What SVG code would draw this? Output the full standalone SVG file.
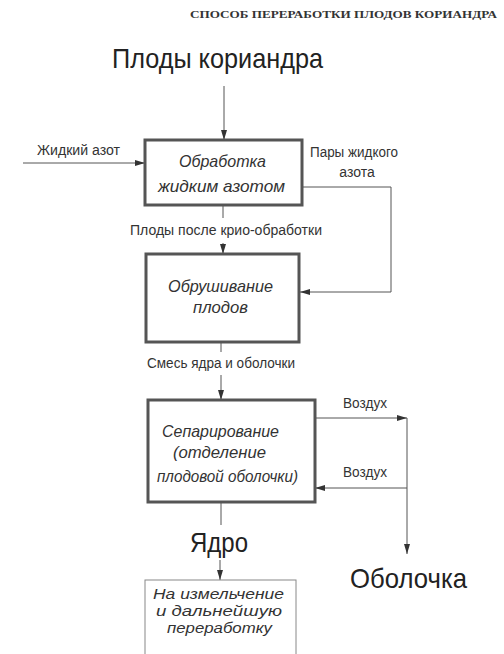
<svg xmlns="http://www.w3.org/2000/svg" width="504" height="654" viewBox="0 0 504 654">
<defs>
<style>
.t{font-family:"Liberation Sans","Noto Sans",sans-serif;fill:#333;}
.i{font-style:italic;}
.big{font-size:28px;fill:#222;}
.lbl{font-size:14px;}
.box{font-size:17px;}
.sm{font-size:15.5px;}
.thick{fill:#fff;stroke:#555;stroke-width:3;}
.thin{fill:#fff;stroke:#888;stroke-width:1;}
.ln{fill:none;stroke:#555;stroke-width:1;}
</style>
<marker id="ah" viewBox="0 0 10 6" refX="10" refY="3" markerWidth="10" markerHeight="6" markerUnits="userSpaceOnUse" orient="auto">
<path d="M0,0 L10,3 L0,6 z" fill="#333"/>
</marker>
</defs>
<rect width="504" height="654" fill="#fff"/>
<text x="190" y="18" font-family="Liberation Serif,serif" font-weight="bold" font-size="11" fill="#333" textLength="307" lengthAdjust="spacingAndGlyphs">СПОСОБ ПЕРЕРАБОТКИ ПЛОДОВ КОРИАНДРА</text>

<g id="connectors">
<path class="ln" d="M224,86 V140" marker-end="url(#ah)"/>
<path class="ln" d="M23,163 H145" marker-end="url(#ah)"/>
<path class="ln" d="M302,187 H391 V292 H300" marker-end="url(#ah)"/>
<path class="ln" d="M223,205 V218"/>
<path class="ln" d="M223,243 V254" marker-end="url(#ah)"/>
<path class="ln" d="M221,342 V352"/>
<path class="ln" d="M221,375 V400" marker-end="url(#ah)"/>
<path class="ln" d="M315,418 H407" marker-end="url(#ah)"/>
<path class="ln" d="M407,418 V554" marker-end="url(#ah)"/>
<path class="ln" d="M407,488 H315" marker-end="url(#ah)"/>
<path class="ln" d="M221,502 V525"/>
<path class="ln" d="M220,560 V580" marker-end="url(#ah)"/>
</g>

<g id="n-plody">
<text class="t big" x="112" y="68" textLength="211" lengthAdjust="spacingAndGlyphs">Плоды кориандра</text>
</g>
<g id="n-azot">
<text class="t lbl" x="37" y="155" textLength="83" lengthAdjust="spacingAndGlyphs">Жидкий азот</text>
</g>
<g id="n-pary">
<text class="t lbl" x="310" y="157" textLength="88" lengthAdjust="spacingAndGlyphs">Пары жидкого</text>
<text class="t lbl" x="357" y="177" text-anchor="middle">азота</text>
</g>
<g id="n-obrabotka">
<rect class="thick" x="145" y="140" width="157" height="65"/>
<text class="t i box" x="179" y="167" textLength="87" lengthAdjust="spacingAndGlyphs">Обработка</text>
<text class="t i box" x="158" y="192" textLength="127" lengthAdjust="spacingAndGlyphs">жидким азотом</text>
</g>
<g id="n-kryo">
<text class="t lbl" x="130" y="235" textLength="192" lengthAdjust="spacingAndGlyphs">Плоды после крио-обработки</text>
</g>
<g id="n-obrushivanie">
<rect class="thick" x="146" y="254" width="153" height="88"/>
<text class="t i box" x="168" y="292" textLength="105" lengthAdjust="spacingAndGlyphs">Обрушивание</text>
<text class="t i box" x="193" y="313" textLength="55" lengthAdjust="spacingAndGlyphs">плодов</text>
</g>
<g id="n-smes">
<text class="t lbl" x="147" y="368" textLength="148" lengthAdjust="spacingAndGlyphs">Смесь ядра и оболочки</text>
</g>
<g id="n-separ">
<rect class="thick" x="148" y="400" width="167" height="102"/>
<text class="t i box" x="162" y="437" textLength="117" lengthAdjust="spacingAndGlyphs">Сепарирование</text>
<text class="t i box" x="173" y="458" textLength="93" lengthAdjust="spacingAndGlyphs">(отделение</text>
<text class="t i box" x="157" y="482" textLength="141" lengthAdjust="spacingAndGlyphs">плодовой оболочки)</text>
</g>
<g id="n-vozduh1">
<text class="t lbl" x="343" y="408" textLength="44" lengthAdjust="spacingAndGlyphs">Воздух</text>
</g>
<g id="n-vozduh2">
<text class="t lbl" x="343" y="477" textLength="44" lengthAdjust="spacingAndGlyphs">Воздух</text>
</g>
<g id="n-yadro">
<text class="t big" x="190" y="552" textLength="58" lengthAdjust="spacingAndGlyphs">Ядро</text>
</g>
<g id="n-obolochka">
<text class="t big" x="350" y="588" textLength="117" lengthAdjust="spacingAndGlyphs">Оболочка</text>
</g>
<g id="n-dalee">
<rect class="thin" x="145" y="580" width="151" height="80"/>
<text class="t i sm" x="153" y="599" textLength="131" lengthAdjust="spacingAndGlyphs">На измельчение</text>
<text class="t i sm" x="156" y="616" textLength="126" lengthAdjust="spacingAndGlyphs">и дальнейшую</text>
<text class="t i sm" x="167" y="633" textLength="105" lengthAdjust="spacingAndGlyphs">переработку</text>
</g>
</svg>
